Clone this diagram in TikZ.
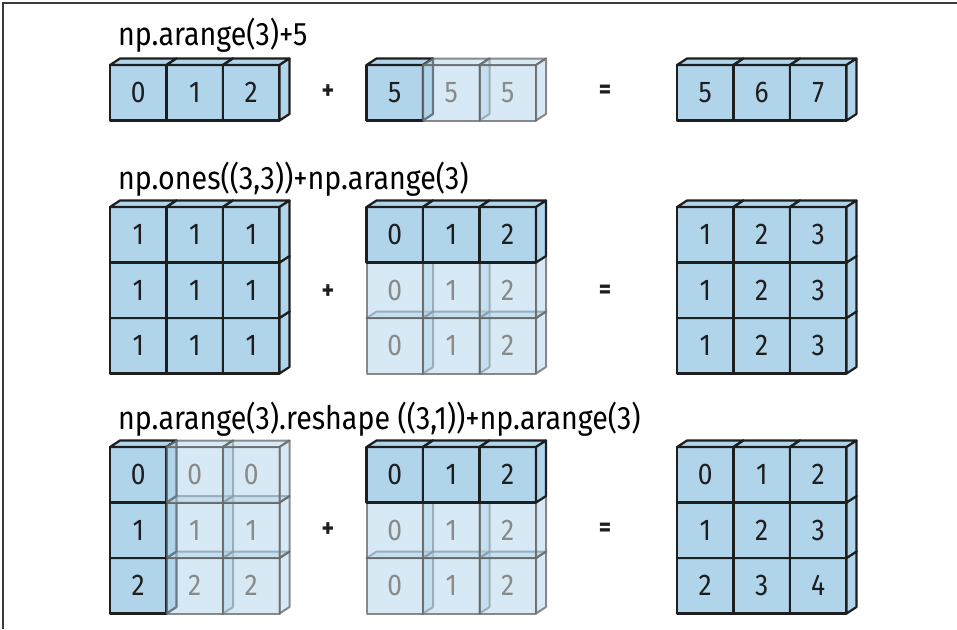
\documentclass[tikz,border=0pt]{standalone}
\usepackage{fontspec}
\setmainfont[FakeStretch=0.88]{Fira Sans}
\begin{document}
\definecolor{cellblue}{HTML}{B0D4EA}
\definecolor{edgedark}{HTML}{1E1E1E}
\definecolor{ghostedge}{HTML}{666666}
\definecolor{ghosttext}{HTML}{8A8A8A}
\definecolor{framegray}{HTML}{3A3A3A}
\tikzset{
  cellsolid/.style={draw=edgedark, fill=cellblue, line width=2.2pt, line join=round, text=edgedark},
  cellghost/.style={draw=ghostedge, draw opacity=0.75, fill=cellblue, fill opacity=0.5, text opacity=1, line width=2pt, line join=round, text=ghosttext},
  facebox/.style={minimum width=56.5pt, minimum height=55.5pt, inner sep=0pt, outer sep=0pt, font=\fontsize{30}{30}\selectfont},
  caption/.style={anchor=base west, inner sep=0pt, font=\fontsize{32.5}{32.5}\selectfont, text=black},
  opsign/.style={inner sep=0pt, font=\fontsize{27}{27}\selectfont\bfseries, text=edgedark}
}
% one cube: name, x, y (top-left of front face), digit, style
\newcommand\blk[5]{%
  \node[#5, facebox, anchor=north west] (#1) at (#2,#3) {#4};
  \draw[#5] (#1.north west) -- ++(10,-6.5) -- ([shift={(10,-6.5)}]#1.north east) -- (#1.north east) -- cycle;
  \draw[#5] (#1.north east) -- ++(10,-6.5) -- ([shift={(10,-6.5)}]#1.south east) -- (#1.south east) -- cycle;
}
\begin{tikzpicture}[x=1pt, y=-1pt]
\useasboundingbox (0,0) rectangle (957,629);
% page frame (top and left rules)
\draw[framegray, line width=2pt] (3,629) coordinate (fb) -- (3,2.5) coordinate (fc) -- (957,2.5) coordinate (fr);

% ---------- np.arange(3)+5 ----------
\node[caption] (t1) at (118,45) {np.arange(3)+5};
\blk{a0}{110}{65}{0}{cellsolid}
\blk{a1}{166.5}{65}{1}{cellsolid}
\blk{a2}{223}{65}{2}{cellsolid}
\node[opsign] (p1) at (328,92) {+};
\blk{b0}{366.5}{65}{5}{cellsolid}
\blk{b1}{423}{65}{5}{cellghost}
\blk{b2}{479.5}{65}{5}{cellghost}
\node[opsign] (e1) at (605,92) {=};
\blk{c0}{677}{65}{5}{cellsolid}
\blk{c1}{733.5}{65}{6}{cellsolid}
\blk{c2}{790}{65}{7}{cellsolid}

% ---------- np.ones((3,3))+np.arange(3) ----------
\node[caption] (t2) at (118,189) {np.ones((3,3))+np.arange(3)};
% left operand
\blk{d20}{110}{318}{1}{cellsolid}
\blk{d21}{166.5}{318}{1}{cellsolid}
\blk{d22}{223}{318}{1}{cellsolid}
\blk{d10}{110}{262.5}{1}{cellsolid}
\blk{d11}{166.5}{262.5}{1}{cellsolid}
\blk{d12}{223}{262.5}{1}{cellsolid}
\blk{d00}{110}{207}{1}{cellsolid}
\blk{d01}{166.5}{207}{1}{cellsolid}
\blk{d02}{223}{207}{1}{cellsolid}
\node[opsign] (p2) at (328,292) {+};
% right operand (broadcast rows)
\blk{f20}{366.5}{318}{0}{cellghost}
\blk{f21}{423}{318}{1}{cellghost}
\blk{f22}{479.5}{318}{2}{cellghost}
\blk{f10}{366.5}{262.5}{0}{cellghost}
\blk{f11}{423}{262.5}{1}{cellghost}
\blk{f12}{479.5}{262.5}{2}{cellghost}
\blk{f00}{366.5}{207}{0}{cellsolid}
\blk{f01}{423}{207}{1}{cellsolid}
\blk{f02}{479.5}{207}{2}{cellsolid}
\node[opsign] (e2) at (605,292) {=};
% result
\blk{g20}{677}{318}{1}{cellsolid}
\blk{g21}{733.5}{318}{2}{cellsolid}
\blk{g22}{790}{318}{3}{cellsolid}
\blk{g10}{677}{262.5}{1}{cellsolid}
\blk{g11}{733.5}{262.5}{2}{cellsolid}
\blk{g12}{790}{262.5}{3}{cellsolid}
\blk{g00}{677}{207}{1}{cellsolid}
\blk{g01}{733.5}{207}{2}{cellsolid}
\blk{g02}{790}{207}{3}{cellsolid}

% ---------- np.arange(3).reshape((3,1))+np.arange(3) ----------
\node[caption] (t3) at (118,429) {np.arange(3).reshape ((3,1))+np.arange(3)};
% left operand (broadcast columns)
\blk{h20}{110}{558}{2}{cellsolid}
\blk{h21}{166.5}{558}{2}{cellghost}
\blk{h22}{223}{558}{2}{cellghost}
\blk{h10}{110}{502.5}{1}{cellsolid}
\blk{h11}{166.5}{502.5}{1}{cellghost}
\blk{h12}{223}{502.5}{1}{cellghost}
\blk{h00}{110}{447}{0}{cellsolid}
\blk{h01}{166.5}{447}{0}{cellghost}
\blk{h02}{223}{447}{0}{cellghost}
\node[opsign] (p3) at (328,530) {+};
% right operand (broadcast rows)
\blk{k20}{366.5}{558}{0}{cellghost}
\blk{k21}{423}{558}{1}{cellghost}
\blk{k22}{479.5}{558}{2}{cellghost}
\blk{k10}{366.5}{502.5}{0}{cellghost}
\blk{k11}{423}{502.5}{1}{cellghost}
\blk{k12}{479.5}{502.5}{2}{cellghost}
\blk{k00}{366.5}{447}{0}{cellsolid}
\blk{k01}{423}{447}{1}{cellsolid}
\blk{k02}{479.5}{447}{2}{cellsolid}
\node[opsign] (e3) at (605,530) {=};
% result
\blk{m20}{677}{558}{2}{cellsolid}
\blk{m21}{733.5}{558}{3}{cellsolid}
\blk{m22}{790}{558}{4}{cellsolid}
\blk{m10}{677}{502.5}{1}{cellsolid}
\blk{m11}{733.5}{502.5}{2}{cellsolid}
\blk{m12}{790}{502.5}{3}{cellsolid}
\blk{m00}{677}{447}{0}{cellsolid}
\blk{m01}{733.5}{447}{1}{cellsolid}
\blk{m02}{790}{447}{2}{cellsolid}
\end{tikzpicture}
\end{document}
